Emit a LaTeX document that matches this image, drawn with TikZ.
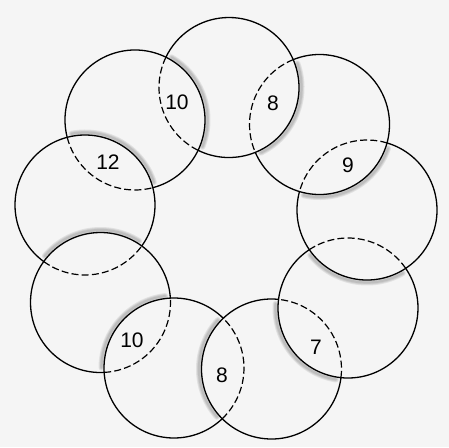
\documentclass[tikz,border=0pt]{standalone}
\usepackage{fontspec}
\setmainfont{Liberation Sans}
\usetikzlibrary{calc}
\begin{document}
\begin{tikzpicture}[x=1pt,y=1pt,
  ring/.style={line width=1.3pt, draw=black},
  under/.style={line width=1.2pt, draw=black, dash pattern=on 7pt off 3.2pt},
  shadowline/.style={draw=black, line cap=round},
  num/.style={font=\fontsize{21}{21}\selectfont, inner sep=0pt, text=black}]
\def\ringR{70}
\fill[black!4] (0,-447) rectangle (449,0);
\useasboundingbox (0,-447) rectangle (449,0);
% circle centres, counter-clockwise from the top
\coordinate (c0) at (229,-87.5);
\coordinate (c1) at (135,-120);
\coordinate (c2) at (85,-205);
\coordinate (c3) at (100.5,-302.5);
\coordinate (c4) at (174,-368);
\coordinate (c5) at (271.5,-369);
\coordinate (c6) at (348,-308);
\coordinate (c7) at (367,-210);
\coordinate (c8) at (319.5,-124.5);
% shadows cast by the upper circle into the lower one
\foreach \u/\o in {c0/c1,c1/c2,c2/c3,c3/c4,c4/c5,c5/c6,c6/c7,c7/c8,c8/c0}{
  \foreach \w in {6,4,2.2}{
    \draw[shadowline, line width=\w pt, opacity=0.08]
      let \p1=($(\o)-(\u)$), \n1={atan2(\y1,\x1)},
          \n2={acos(veclen(\x1,\y1)/(2*\ringR))-4} in
      ($(\o)+(\n1+180-\n2:\ringR+2.5)$)
      arc[start angle=\n1+180-\n2, end angle=\n1+180+\n2, radius=\ringR+2.5];
  }
}
% circles: solid outside the circle lying over them, dashed inside it
\foreach \u/\o in {c0/c1,c1/c2,c2/c3,c3/c4,c4/c5,c5/c6,c6/c7,c7/c8,c8/c0}{
  \draw[ring] let \p1=($(\o)-(\u)$), \n1={atan2(\y1,\x1)},
          \n2={acos(veclen(\x1,\y1)/(2*\ringR))} in
    ($(\u)+(\n1+\n2:\ringR)$)
    arc[start angle=\n1+\n2, end angle=\n1-\n2+360, radius=\ringR];
  \draw[under] let \p1=($(\o)-(\u)$), \n1={atan2(\y1,\x1)},
          \n2={acos(veclen(\x1,\y1)/(2*\ringR))} in
    ($(\u)+(\n1-\n2:\ringR)$)
    arc[start angle=\n1-\n2, end angle=\n1+\n2, radius=\ringR];
}
% numbers
\node[num] (n01) at (177,-102) {10};
\node[num] (n80) at (273,-103) {8};
\node[num] (n12) at (108,-162) {12};
\node[num] (n78) at (348,-165) {9};
\node[num] (n56) at (316,-347) {7};
\node[num] (n45) at (222,-375) {8};
\node[num] (n34) at (132,-340) {10};
\end{tikzpicture}
\end{document}
